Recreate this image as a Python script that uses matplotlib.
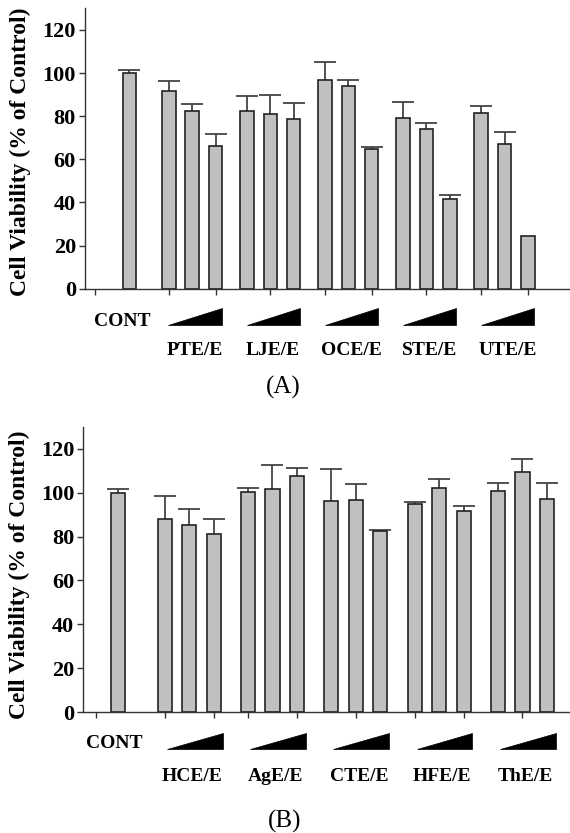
import matplotlib
matplotlib.use("Agg")
import numpy as np
import matplotlib.pyplot as plt
from matplotlib import transforms
from matplotlib.patches import Polygon

# ---------------- data ----------------
yticks = [0, 20, 40, 60, 80, 100, 120]
ylabel = "Cell Viability (% of Control)"
cont_label = "CONT"

a_groups = ["PTE/E", "LJE/E", "OCE/E", "STE/E", "UTE/E"]
a_cont = 100.0
a_cont_err = 1.5
a_means = [[91.5, 82.3, 66.2], [82.3, 80.9, 78.6], [96.6, 94.2, 64.8],
           [79.0, 73.9, 41.8], [81.3, 67.1, 24.3]]
a_errs = [[5.0, 3.2, 5.4], [7.0, 9.0, 7.3], [8.7, 2.4, 0.9],
          [7.4, 2.8, 1.5], [3.6, 5.4, 0.0]]

b_groups = ["HCE/E", "AgE/E", "CTE/E", "HFE/E", "ThE/E"]
b_cont = 100.0
b_cont_err = 1.8
b_means = [[87.9, 85.1, 81.3], [100.2, 101.7, 107.6], [96.1, 96.7, 82.4],
           [94.7, 102.0, 91.5], [100.8, 109.6, 97.0]]
b_errs = [[10.4, 7.6, 6.5], [1.8, 11.0, 3.6], [14.7, 7.1, 0.8],
          [0.8, 4.1, 2.6], [3.6, 5.7, 7.4]]

# ---------------- style ----------------
W, H = 570, 833
SERIF = ["Liberation Serif", "DejaVu Serif"]
BAR_FC = "#c0c0c0"
BAR_EC = "#222222"
ERR_C = "#444444"
SPINE_C = "#333333"

fig = plt.figure(figsize=(W / 100, H / 100), dpi=100)


def fy(px):
    return 1 - px / H


def panel(rect_px, groups, cont, cont_err, means, errs, first, gstep, xlim,
          tick_left, tick_idx, tri_px, cont_lab_px, grp_lab_px, panel_lab,
          panel_lab_px, ylab_px, cont_lab_dx, tri_dx):
    left, top, right, bottom = rect_px
    ax = fig.add_axes([left / W, fy(bottom), (right - left) / W, (bottom - top) / H])
    pos = [[first + g * gstep + k for k in range(3)] for g in range(len(groups))]
    xs = np.array([0.0] + [p for grp in pos for p in grp])
    ys = np.array([cont] + [v for grp in means for v in grp])
    es = np.array([cont_err] + [v for grp in errs for v in grp])
    m = es > 0
    _, caps, _ = ax.errorbar(xs[m], ys[m], yerr=[np.zeros(m.sum()), es[m]],
                             fmt="none", ecolor=ERR_C, elinewidth=1.3,
                             capsize=8, capthick=1.3, zorder=1)
    # hide the lower caps (which sit on the bar tops)
    for c in caps:
        if np.allclose(np.asarray(c.get_ydata(), float), ys[m]):
            c.set_visible(False)
    ax.bar(xs, ys, width=0.58, color=BAR_FC, edgecolor=BAR_EC, linewidth=1.2, zorder=2)
    ax.set_xlim(*xlim)
    ax.set_ylim(0, 130)
    ax.set_yticks(yticks)
    ax.set_yticklabels([str(t) for t in yticks], fontfamily=SERIF,
                       fontweight="bold", fontsize=16)
    ticks = [tick_left] + [pos[g][k] for g, k in tick_idx]
    ax.set_xticks(ticks)
    ax.set_xticklabels([])
    for s in ["top", "right"]:
        ax.spines[s].set_visible(False)
    for s in ["left", "bottom"]:
        ax.spines[s].set_color(SPINE_C)
        ax.spines[s].set_linewidth(1.0)
        ax.spines[s].set_zorder(3)
    ax.spines["bottom"].set_clip_on(False)
    ax.tick_params(axis="both", direction="out", length=4, width=1.0,
                   color=SPINE_C, pad=2.5)
    ax.patch.set_alpha(0)

    tr = transforms.blended_transform_factory(ax.transData, fig.transFigure)
    t0, t1 = tri_px
    for g in range(len(groups)):
        x0 = pos[g][0] + tri_dx
        x1 = pos[g][2] + 0.28 + tri_dx
        poly = Polygon([(x0, fy(t1)), (x1, fy(t1)), (x1, fy(t0))], closed=True,
                       facecolor="black", edgecolor="black", linewidth=0.5,
                       transform=tr, clip_on=False)
        fig.add_artist(poly)
        fig.text(pos[g][1] + 0.12, fy(grp_lab_px), groups[g], transform=tr,
                 ha="center", va="center", fontfamily=SERIF, fontweight="bold",
                 fontsize=14)
    fig.text(0.0 + cont_lab_dx, fy(cont_lab_px), cont_label, transform=tr,
             ha="center", va="center", fontfamily=SERIF, fontweight="bold",
             fontsize=14)
    fig.text(panel_lab_px[0] / W, fy(panel_lab_px[1]), panel_lab, ha="center",
             va="center", fontfamily=SERIF, fontsize=18)
    fig.text(ylab_px[0] / W, fy(ylab_px[1]), ylabel, rotation=90, ha="center",
             va="center", fontfamily=SERIF, fontweight="bold", fontsize=17)
    return ax


panel((85, 8.3, 571, 288.7), a_groups, a_cont, a_cont_err, a_means, a_errs,
      first=1.70, gstep=3.35, xlim=(-1.90, 18.95), tick_left=-1.47,
      tick_idx=[(0, 0), (0, 2), (1, 1), (2, 0), (2, 2), (3, 1), (4, 0), (4, 2)],
      tri_px=(308.3, 325.0), cont_lab_px=321.7, grp_lab_px=350.0,
      panel_lab="(A)", panel_lab_px=(283.5, 387.5), ylab_px=(20, 152),
      cont_lab_dx=-0.29, tri_dx=-0.02)

panel((83.3, 426.7, 571, 712.3), b_groups, b_cont, b_cont_err, b_means, b_errs,
      first=1.92, gstep=3.40, xlim=(-1.40, 18.5), tick_left=-0.90,
      tick_idx=[(0, 0), (0, 2), (1, 0), (1, 2), (2, 1), (3, 0), (3, 2), (4, 1)],
      tri_px=(732.7, 749.3), cont_lab_px=743.3, grp_lab_px=776.5,
      panel_lab="(B)", panel_lab_px=(285, 821.5), ylab_px=(19, 575),
      cont_lab_dx=-0.15, tri_dx=0.08)

fig.savefig("out.png", dpi=100)
